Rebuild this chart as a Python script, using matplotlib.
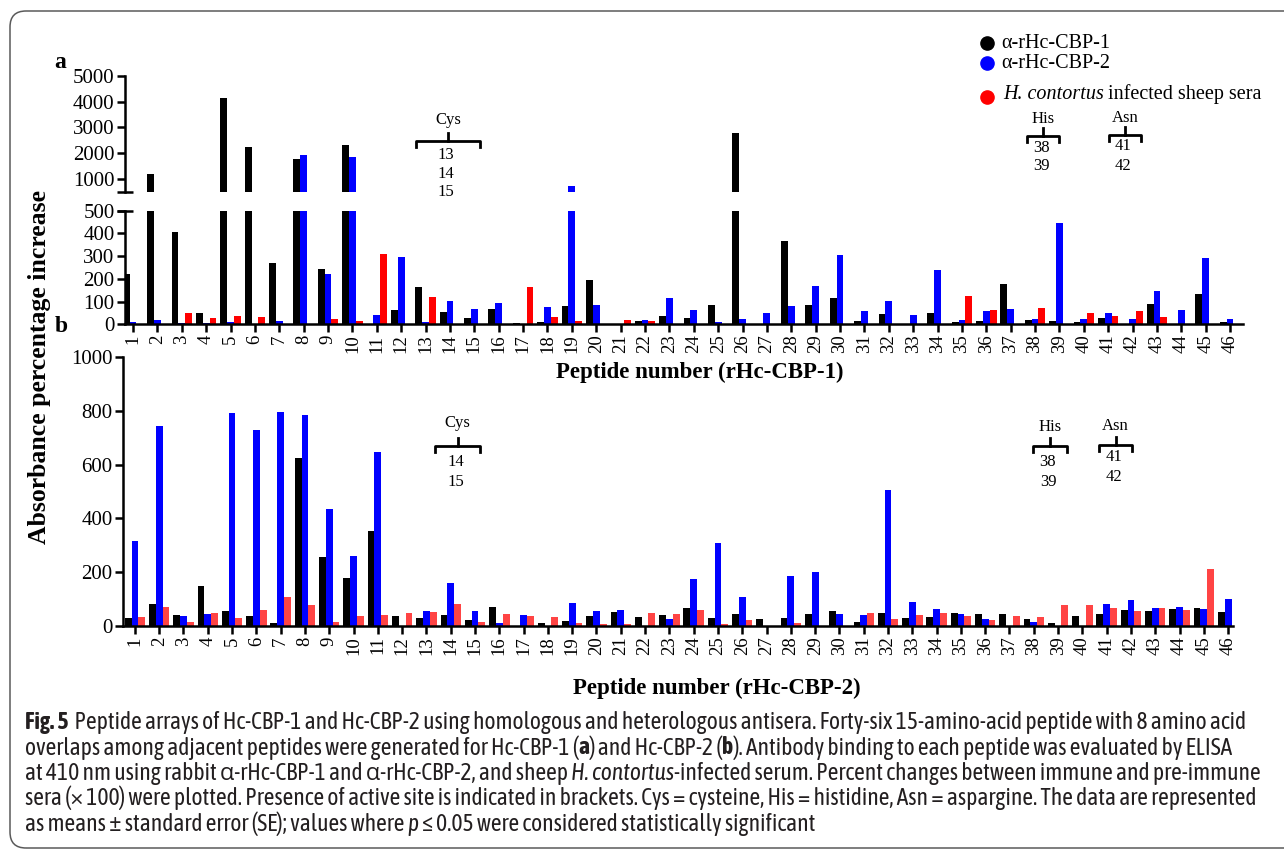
import numpy as np
import matplotlib
matplotlib.use("Agg")
import matplotlib.pyplot as plt
import matplotlib.patheffects as pe
from matplotlib.patches import FancyBboxPatch
from matplotlib.transforms import IdentityTransform
from matplotlib.lines import Line2D
from matplotlib.font_manager import FontProperties, fontManager

# ---------------- data ----------------
peptides = list(range(1, 47))
tick_labels = [str(p) for p in peptides]

# Panel a: peptides of rHc-CBP-1
a_cbp1 = [220, 1190, 406, 48, 4150, 2250, 270, 1760, 243, 2300,
          0, 65, 163, 56, 29, 66, 4, 10, 81, 195,
          0, 13, 37, 28, 85, 2770, 0, 367, 86, 116,
          15, 44, 0, 48, 9, 15, 177, 19, 13, 9,
          26, 0, 88, 0, 135, 10]
a_cbp2 = [9, 19, 5, 4, 9, 0, 16, 1914, 221, 1836,
          43, 296, 10, 104, 67, 95, 0, 75, 733, 86,
          0, 21, 117, 63, 10, 22, 48, 82, 169, 306,
          60, 101, 41, 240, 17, 57, 66, 23, 446, 23,
          48, 25, 146, 63, 290, 25]
a_sheep = [0, 0, 50, 29, 37, 32, 0, 0, 22, 15,
           309, 0, 119, 0, 0, 0, 163, 32, 13, 0,
           21, 16, 0, 0, 0, 0, 0, 0, 0, 0,
           0, 0, 0, 0, 126, 64, 0, 70, 0, 48,
           37, 57, 32, 0, 0, 0]

# Panel b: peptides of rHc-CBP-2
b_cbp1 = [30, 82, 42, 150, 56, 36, 11, 623, 255, 179,
          354, 38, 31, 41, 22, 71, 0, 10, 20, 36,
          51, 32, 40, 66, 30, 43, 27, 30, 46, 56,
          14, 50, 31, 34, 48, 46, 43, 27, 10, 36,
          43, 61, 56, 65, 67, 52]
b_cbp2 = [315, 743, 36, 43, 790, 729, 795, 785, 436, 260,
          647, 0, 56, 161, 55, 11, 40, 0, 84, 57,
          60, 0, 27, 176, 309, 108, 0, 186, 202, 45,
          40, 504, 90, 62, 46, 26, 0, 15, 0, 0,
          81, 97, 66, 72, 65, 102]
b_sheep = [35, 70, 15, 47, 30, 61, 107, 77, 15, 37,
           42, 50, 53, 83, 15, 46, 37, 34, 12, 7,
           6, 48, 45, 61, 6, 22, 0, 11, 0, 0,
           47, 27, 40, 47, 36, 24, 38, 32, 79, 77,
           67, 57, 66, 58, 212, 0]

a_upper_ticks = [1000, 2000, 3000, 4000, 5000]
a_lower_ticks = [0, 100, 200, 300, 400, 500]
b_ticks = [0, 200, 400, 600, 800, 1000]

legend_labels = ["\u03b1-rHc-CBP-1", "\u03b1-rHc-CBP-2", "infected sheep sera"]
caption_lines = [
    [("Fig. 5", "bold", "normal"),
     ("  Peptide arrays of Hc-CBP-1 and Hc-CBP-2 using homologous and heterologous antisera. Forty-six 15-amino-acid peptide with 8 amino acid", "normal", "normal")],
    [("overlaps among adjacent peptides were generated for Hc-CBP-1 (", "normal", "normal"), ("a", "bold", "normal"),
     (") and Hc-CBP-2 (", "normal", "normal"), ("b", "bold", "normal"),
     ("). Antibody binding to each peptide was evaluated by ELISA", "normal", "normal")],
    [("at 410 nm using rabbit \u03b1-rHc-CBP-1 and \u03b1-rHc-CBP-2, and sheep ", "normal", "normal"),
     ("H. contortus", "normal", "italic"),
     ("-infected serum. Percent changes between immune and pre-immune", "normal", "normal")],
    [("sera (\u00d7 100) were plotted. Presence of active site is indicated in brackets. Cys = cysteine, His = histidine, Asn = aspargine. The data are represented", "normal", "normal")],
    [("as means \u00b1 standard error (SE); values where ", "normal", "normal"), ("p", "normal", "italic"),
     (" \u2264 0.05 were considered statistically significant", "normal", "normal")],
]

# ---------------- style ----------------
W, H = 1284, 850
SERIF = ["Liberation Serif", "DejaVu Serif"]
BLACK, BLUE = "#000000", "#0000FF"
RED_A, RED_B = "#FF0000", "#FF4444"
plt.rcParams["font.family"] = SERIF

# caption font: prefer a narrow / condensed sans (with a bold face) if installed
_wmap = {"ultralight": 200, "light": 300, "normal": 400, "regular": 400, "book": 400,
         "medium": 500, "roman": 400, "semibold": 600, "demibold": 600, "demi": 600,
         "bold": 700, "heavy": 800, "extra bold": 800, "black": 900}
cands = {}
for f in fontManager.ttflist:
    if ("Narrow" in f.name or "Condensed" in f.name) and "Mono" not in f.name:
        w = f.weight if isinstance(f.weight, (int, float)) else _wmap.get(str(f.weight), 400)
        cands.setdefault(f.name, set()).add(w)
CAP_FAMILY = ["Open Sans", "DejaVu Sans"]
HAS_BOLD = True
if cands:
    with_bold = [n for n, ws in cands.items() if max(ws) >= 600]
    pick = with_bold[0] if with_bold else sorted(cands)[0]
    CAP_FAMILY = [pick, "Open Sans", "DejaVu Sans"]
    HAS_BOLD = bool(with_bold)

fig = plt.figure(figsize=(W / 100, H / 100), dpi=100)
renderer = fig.canvas.get_renderer()


def fx(x):
    return x / W


def fy(y):
    return 1 - y / H


def ax_rect(x0, x1, y0, y1):
    return [fx(x0), fy(y1), (x1 - x0) / W, (y1 - y0) / H]


SP_LW = 1.8


def style_axes(ax, left=True, bottom=True, top=False, right=False):
    for s, v in zip(["left", "bottom", "top", "right"], [left, bottom, top, right]):
        ax.spines[s].set_visible(v)
        ax.spines[s].set_linewidth(SP_LW)
    ax.tick_params(axis="both", direction="out", width=SP_LW, length=5.5, pad=2)
    ax.set_facecolor("none")


bw = 0.28
x = np.array(peptides, dtype=float)

# ---------------- panel a (broken axis) ----------------
ax_up = fig.add_axes(ax_rect(125, 1243, 76, 191.7))
ax_lo = fig.add_axes(ax_rect(125, 1243, 210.7, 324.3))
for ax in (ax_up, ax_lo):
    ax.bar(x - bw, a_cbp1, bw, color=BLACK, linewidth=0)
    ax.bar(x, a_cbp2, bw, color=BLUE, linewidth=0)
    ax.bar(x + bw, a_sheep, bw, color=RED_A, linewidth=0)
    ax.set_xlim(0.67, 46.53)

ax_up.set_ylim(500, 5000)
ax_up.set_yticks(a_upper_ticks)
ax_up.set_yticklabels([str(t) for t in a_upper_ticks], fontsize=15, family=SERIF)
ax_up.set_xticks([])
style_axes(ax_up, bottom=False)

ax_lo.set_ylim(0, 500)
ax_lo.set_yticks(a_lower_ticks)
ax_lo.set_yticklabels([str(t) for t in a_lower_ticks], fontsize=15, family=SERIF)
ax_lo.set_xticks(peptides)
ax_lo.set_xticklabels(tick_labels, rotation=90, fontsize=13.5, family=SERIF)
style_axes(ax_lo)

# break marks
for ax, yy in ((ax_up, 0.0), (ax_lo, 1.0)):
    ax.add_line(Line2D([-0.007, 0.007], [yy, yy], transform=ax.transAxes, color="black",
                       lw=SP_LW, clip_on=False, solid_capstyle="butt"))

# ---------------- panel b ----------------
ax_b = fig.add_axes(ax_rect(123, 1233, 357, 626))
ax_b.bar(x - bw, b_cbp1, bw, color=BLACK, linewidth=0)
ax_b.bar(x, b_cbp2, bw, color=BLUE, linewidth=0)
ax_b.bar(x + bw, b_sheep, bw, color=RED_B, linewidth=0)
ax_b.set_xlim(0.51, 46.2)
ax_b.set_ylim(0, 1000)
ax_b.set_yticks(b_ticks)
ax_b.set_yticklabels([str(t) for t in b_ticks], fontsize=15, family=SERIF)
ax_b.set_xticks(peptides)
ax_b.set_xticklabels(tick_labels, rotation=90, fontsize=13.5, family=SERIF)
style_axes(ax_b)

# ---------------- labels ----------------
fig.text(fx(700), fy(372), "Peptide number (rHc-CBP-1)", ha="center", va="center",
         fontsize=16.5, fontweight="bold", family=SERIF)
fig.text(fx(717), fy(688), "Peptide number (rHc-CBP-2)", ha="center", va="center",
         fontsize=16.5, fontweight="bold", family=SERIF)
fig.text(fx(40), fy(367), "Absorbance percentage increase", ha="center", va="center",
         rotation=90, fontsize=18.5, fontweight="bold", family=SERIF)
fig.text(fx(60), fy(63), "a", ha="center", va="center", fontsize=17, fontweight="bold", family=SERIF)
fig.text(fx(61), fy(327), "b", ha="center", va="center", fontsize=17, fontweight="bold", family=SERIF)

# ---------------- legend ----------------
leg_y = [42.7, 63.3, 96.7]
leg_c = [BLACK, BLUE, RED_A]
for yy, cc in zip(leg_y, leg_c):
    fig.add_artist(Line2D([fx(987)], [fy(yy)], marker="o", markersize=9.5, color=cc,
                          markeredgecolor=cc, linestyle="none", transform=fig.transFigure))
fig.text(fx(1001), fy(48.3), legend_labels[0], fontsize=14.5, va="baseline", ha="left", family=SERIF)
fig.text(fx(1001), fy(68.3), legend_labels[1], fontsize=14.5, va="baseline", ha="left", family=SERIF)
fig.text(fx(1003), fy(99), "H. contortus", fontsize=14.5, style="italic",
         va="baseline", ha="left", family=SERIF)
prop_it = FontProperties(family=SERIF, size=14.5, style="italic")
wbar = renderer.get_text_width_height_descent("|", prop_it, ismath=False)[0]
w_it = renderer.get_text_width_height_descent("H. contortus|", prop_it, ismath=False)[0] - wbar
fig.text(fx(1003 + w_it + 4), fy(99), legend_labels[2], fontsize=14.5, va="baseline",
         ha="left", family=SERIF)


# ---------------- active-site brackets ----------------
def bracket(x0, x1, y, title, nums, title_y, num_ys, fs=12):
    xm = (x0 + x1) / 2
    lw = 2.0
    fig.add_artist(Line2D([fx(x0), fx(x0), fx(x1), fx(x1)],
                          [fy(y + 6), fy(y), fy(y), fy(y + 6)],
                          transform=fig.transFigure, color="black", lw=lw,
                          solid_joinstyle="round"))
    fig.add_artist(Line2D([fx(xm), fx(xm)], [fy(y), fy(y - 8)],
                          transform=fig.transFigure, color="black", lw=lw))
    fig.text(fx(xm), fy(title_y), title, ha="center", va="center", fontsize=fs, family=SERIF)
    for n, ny in zip(nums, num_ys):
        fig.text(fx(xm - 2), fy(ny), n, ha="center", va="center", fontsize=fs, family=SERIF)


bracket(416, 480, 140.7, "Cys", ["13", "14", "15"], 120, [155, 173.5, 192])
bracket(1027, 1059, 136, "His", ["38", "39"], 119, [147.5, 166.5])
bracket(1109, 1141, 135, "Asn", ["41", "42"], 118, [146.5, 166.5])
bracket(435, 480, 446, "Cys", ["14", "15"], 423, [462, 482])
bracket(1033, 1067, 446, "His", ["38", "39"], 427, [462.5, 482.5])
bracket(1099, 1132, 445, "Asn", ["41", "42"], 425.5, [457, 477])

# ---------------- caption ----------------
CAP_COLOR = "#231f20"


def cap_prop(weight, style, size):
    return FontProperties(family=CAP_FAMILY, size=size, weight=weight, style=style)


def run_width(txt, weight, style, size):
    p = cap_prop(weight, style, size)
    wb = renderer.get_text_width_height_descent("|", p, ismath=False)[0]
    extra = 0.0 if (HAS_BOLD or weight != "bold") else 0.8 * len(txt)
    return renderer.get_text_width_height_descent(txt + "|", p, ismath=False)[0] - wb + extra


# fit the widest caption line to the text column (x = 25 .. 1262)
base = 10.0
w_max = max(sum(run_width(t, w, s, base) for t, w, s in line) for line in caption_lines)
cap_size = min(base * 1237 / w_max, 17.5)
cap_x0 = 25
baselines = [729, 754.5, 780, 805.5, 831]
for runs, by in zip(caption_lines, baselines):
    xx = cap_x0
    for t, w, s in runs:
        txt = fig.text(fx(xx), fy(by), t, fontproperties=cap_prop(w, s, cap_size),
                       color=CAP_COLOR, va="baseline", ha="left")
        if w == "bold" and not HAS_BOLD:
            txt.set_path_effects([pe.withStroke(linewidth=1.0, foreground=CAP_COLOR)])
        xx += run_width(t, w, s, cap_size)

# ---------------- frame ----------------
frame = FancyBboxPatch((10, H - 848), 1320, 837, boxstyle="round,pad=0,rounding_size=16",
                       transform=IdentityTransform(), fill=False, edgecolor="#5a5a5a", lw=1.1)
fig.patches.append(frame)

fig.savefig("out.png", dpi=100)
